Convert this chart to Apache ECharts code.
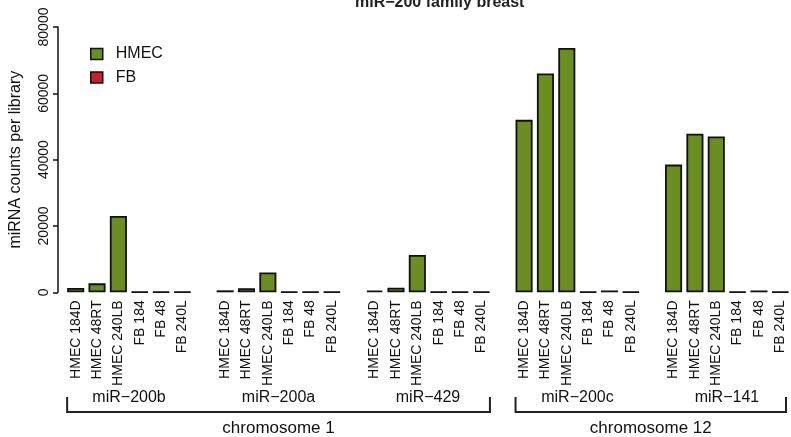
<!DOCTYPE html>
<html>
<head>
<meta charset="utf-8">
<script src="https://cdn.jsdelivr.net/npm/echarts@6/dist/echarts.min.js"></script>
<style>
  html, body { margin: 0; padding: 0; background: #ffffff; }
  #chart { width: 791px; height: 437px; }
</style>
</head>
<body>
<div id="chart"></div>
<script>
// miR-200 family read counts in breast cell libraries
const sampleLabels = ['HMEC 184D', 'HMEC 48RT', 'HMEC 240LB', 'FB 184', 'FB 48', 'FB 240L'];
const mirnaGroups = ['miR-200b', 'miR-200a', 'miR-429', 'miR-200c', 'miR-141'];
const hmecCounts = [
  [1300, 2700, 23000],
  [600, 1200, 6000],
  [500, 1400, 11250],
  [52000, 66000, 73700],
  [38500, 47800, 47000]
];
const fbCounts = [
  [150, 150, 150],
  [150, 150, 150],
  [150, 150, 150],
  [150, 550, 150],
  [150, 550, 150]
];
const chromosomes = ['chromosome 1', 'chromosome 12'];
const chromosomeGroups = [[0, 2], [3, 4]];
const yTickValues = [0, 20000, 40000, 60000, 80000];

const HMEC_COLOR = '#6b8e23';
const FB_COLOR = '#c4232b';
const INK = '#111111';
const FONT = '"Liberation Sans", Arial, Helvetica, sans-serif';

// Category axis: six libraries per miRNA, one empty slot between miRNAs
const categories = [];
const hmecData = [];
const fbData = [];
const groupFirstIndex = [];
mirnaGroups.forEach((g, gi) => {
  groupFirstIndex.push(categories.length);
  sampleLabels.forEach((lab, si) => {
    categories.push(lab);
    if (si < 3) { hmecData.push(hmecCounts[gi][si]); fbData.push('-'); }
    else { hmecData.push('-'); fbData.push(fbCounts[gi][si - 3]); }
  });
  if (gi < mirnaGroups.length - 1) {
    categories.push('\u0000gap' + gi);
    hmecData.push('-');
    fbData.push('-');
  }
});

const BAR_GAP = 0.2;
const chart = echarts.init(document.getElementById('chart'), null, { renderer: 'canvas' });

const option = {
  backgroundColor: '#ffffff',
  animation: false,
  textStyle: { fontFamily: FONT },
  title: {
    text: 'miR\u2212200 family breast',
    left: 350,
    top: -10,
    textStyle: { fontFamily: FONT, fontSize: 16, fontWeight: 'bold', color: '#222' }
  },
  legend: {
    orient: 'vertical',
    left: 85,
    top: 41,
    itemWidth: 12,
    itemHeight: 11,
    itemGap: 7.5,
    icon: 'rect',
    textStyle: { fontFamily: FONT, fontSize: 16, color: INK, padding: [0, 0, 0, 8] },
    data: [
      { name: 'HMEC', itemStyle: { color: HMEC_COLOR, borderColor: INK, borderWidth: 1.5 } },
      { name: 'FB', itemStyle: { color: FB_COLOR, borderColor: INK, borderWidth: 1.5 } }
    ]
  },
  grid: { left: 64.9, right: -1.5, top: 27, bottom: 144.7, containLabel: false },
  xAxis: {
    type: 'category',
    data: categories,
    axisLine: { show: false },
    axisTick: { show: false },
    axisLabel: {
      interval: 0,
      rotate: 90,
      margin: 8,
      fontFamily: FONT,
      fontSize: 14,
      color: INK,
      formatter: v => (v.charAt(0) === '\u0000' ? '' : v)
    }
  },
  yAxis: {
    type: 'value',
    min: yTickValues[0],
    max: yTickValues[yTickValues.length - 1],
    interval: yTickValues[1] - yTickValues[0],
    offset: 7,
    name: 'miRNA counts per library',
    nameLocation: 'middle',
    nameRotate: 90,
    nameGap: 34,
    nameTextStyle: { fontFamily: FONT, fontSize: 16, color: INK },
    axisLine: { show: true, lineStyle: { color: INK, width: 1.5 } },
    axisTick: { show: true, length: 5, lineStyle: { color: INK, width: 1.5 } },
    axisLabel: {
      rotate: 90, margin: 7, fontFamily: FONT, fontSize: 14, color: INK,
      formatter: v => String(v)
    },
    splitLine: { show: false }
  },
  series: [
    {
      name: 'HMEC',
      type: 'bar',
      stack: 'counts',
      data: hmecData,
      barCategoryGap: (BAR_GAP * 100) + '%',
      itemStyle: { color: HMEC_COLOR, borderColor: INK, borderWidth: 1.8 }
    },
    {
      name: 'FB',
      type: 'bar',
      stack: 'counts',
      data: fbData,
      barCategoryGap: (BAR_GAP * 100) + '%',
      itemStyle: { color: FB_COLOR, borderColor: INK, borderWidth: 1.8 }
    }
  ]
};
chart.setOption(option);

// miRNA names and chromosome brackets under the library labels
function drawAnnotations() {
  const px = i => chart.convertToPixel({ xAxisIndex: 0 }, i);
  const band = px(1) - px(0);
  const half = band * (1 - BAR_GAP) / 2;
  const W = chart.getWidth();
  const elements = [];
  const groupLeft = gi => px(groupFirstIndex[gi]) - half;
  const groupRight = gi => px(groupFirstIndex[gi] + sampleLabels.length - 1) + half;

  mirnaGroups.forEach((g, gi) => {
    elements.push({
      type: 'text',
      x: (groupLeft(gi) + groupRight(gi)) / 2,
      y: 397.5,
      style: {
        text: g.replace('-', '\u2212'),
        fontFamily: FONT, fontSize: 16, fill: INK,
        align: 'center', verticalAlign: 'middle'
      }
    });
  });

  chromosomes.forEach((c, ci) => {
    const x0 = groupLeft(chromosomeGroups[ci][0]);
    const x1 = Math.min(groupRight(chromosomeGroups[ci][1]), W - 5);
    elements.push({
      type: 'polyline',
      shape: { points: [[x0, 397], [x0, 412], [x1, 412], [x1, 397]] },
      style: { stroke: '#222', lineWidth: 2, fill: null }
    });
    elements.push({
      type: 'text',
      x: (x0 + x1) / 2,
      y: 428,
      style: {
        text: c,
        fontFamily: FONT, fontSize: 17, fill: INK,
        align: 'center', verticalAlign: 'middle'
      }
    });
  });

  chart.setOption({ graphic: { elements: elements } });
}
drawAnnotations();
</script>
</body>
</html>
